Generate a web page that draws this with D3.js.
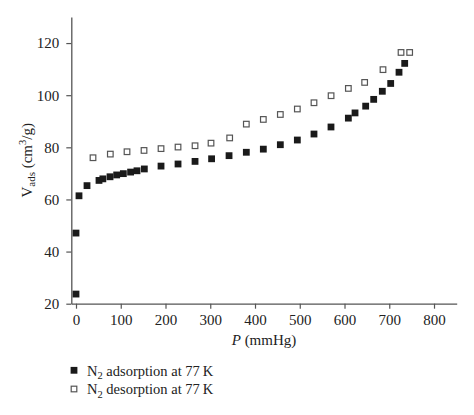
<!DOCTYPE html>
<html><head><meta charset="utf-8">
<script src="https://cdn.jsdelivr.net/npm/d3@7"></script>
<style>
html,body{margin:0;padding:0;background:#fff;}
svg{display:block;}
text{font-family:"Liberation Serif","DejaVu Serif",serif;fill:#222;}
</style></head>
<body>
<svg id="chart" width="474" height="415"></svg>
<script>
// Adsorption branch (P in mmHg, V in cm3/g)
const adsP = [0, 0, 6.7, 24.6, 51.4, 60, 76, 90.9, 105.8, 122, 136.3, 152.7, 190, 228, 266, 303, 342, 380.6, 418.6, 456.6, 494.6, 531.8, 569.8, 608.6, 623.5, 647.3, 665.2, 684.5, 703.2, 721.8, 734.5];
const adsV = [23.7, 47.1, 61.4, 65.3, 67.3, 67.9, 68.7, 69.4, 69.9, 70.5, 71.0, 71.7, 72.8, 73.6, 74.6, 75.6, 76.8, 78.1, 79.3, 81.0, 82.8, 85.1, 87.8, 91.2, 93.2, 95.8, 98.4, 101.5, 104.5, 108.8, 112.2];
// Desorption branch
const desP = [38, 76.7, 114, 152, 190, 228, 266, 301.7, 343.4, 380.6, 418.6, 456.6, 494.6, 531.8, 570, 608.6, 645, 686, 726.3, 745.6];
const desV = [76.0, 77.4, 78.3, 78.8, 79.5, 80.1, 80.6, 81.6, 83.6, 88.9, 90.7, 92.6, 94.7, 97.1, 99.8, 102.6, 104.9, 109.8, 116.4, 116.4];
const xTicks = [0, 100, 200, 300, 400, 500, 600, 700, 800];
const yTicks = [20, 40, 60, 80, 100, 120];
const legendLabels = ["adsorption at 77\u2009K", "desorption at 77\u2009K"];

const svg = d3.select("#chart");
const x = d3.scaleLinear().domain([-10.5, 850.7]).range([71.3, 456.7]);
const y = d3.scaleLinear().domain([20, 130]).range([303.7, 17]);
const axisColor = "#555";
const fs = 15;

// Y axis
const yAxis = svg.append("g").attr("transform", `translate(${x.range()[0]},0)`)
  .call(d3.axisLeft(y).tickValues(yTicks).tickSize(5).tickPadding(7).tickSizeOuter(0));
// X axis
const xAxis = svg.append("g").attr("transform", `translate(0,${y.range()[0]})`)
  .call(d3.axisBottom(x).tickValues(xTicks).tickSize(5).tickPadding(6).tickSizeOuter(0));
[xAxis, yAxis].forEach(g => {
  g.select(".domain").attr("stroke", axisColor).attr("stroke-width", 1.3);
  g.selectAll(".tick line").attr("stroke", axisColor).attr("stroke-width", 1.2);
  g.selectAll(".tick text").attr("font-size", fs).attr("font-family", "Liberation Serif").attr("fill", "#222");
});

// Axis titles
const xl = svg.append("text").attr("x", (x.range()[0] + x.range()[1]) / 2).attr("y", 345)
  .attr("text-anchor", "middle").attr("font-size", fs);
xl.append("tspan").attr("font-style", "italic").text("P");
xl.append("tspan").text(" (mmHg)");

const yl = svg.append("text").attr("transform", `translate(31.5,${(y.range()[0] + y.range()[1]) / 2}) rotate(-90)`)
  .attr("text-anchor", "middle").attr("font-size", fs);
yl.append("tspan").text("V");
yl.append("tspan").attr("font-size", 11).attr("dy", 3.5).text("ads");
yl.append("tspan").attr("dy", -3.5).text(" (cm");
yl.append("tspan").attr("font-size", 10.5).attr("dy", -5.5).text("3");
yl.append("tspan").attr("dy", 5.5).text("/g)");

// Markers
const s = 6.8;
const ads = adsP.map((p, i) => ({p, v: adsV[i]}));
const des = desP.map((p, i) => ({p, v: desV[i]}));
svg.append("g").selectAll("rect").data(des).join("rect")
  .attr("x", d => x(d.p) - s / 2 + 0.6).attr("y", d => y(d.v) - s / 2 + 0.6)
  .attr("width", s - 1.2).attr("height", s - 1.2)
  .attr("fill", "#fff").attr("stroke", "#555").attr("stroke-width", 1.2);
svg.append("g").selectAll("rect").data(ads).join("rect")
  .attr("x", d => x(d.p) - s / 2).attr("y", d => y(d.v) - s / 2)
  .attr("width", s).attr("height", s).attr("fill", "#1a1a1a");

// Legend
const leg = svg.append("g");
legendLabels.forEach((lab, i) => {
  const cy = 370.3 + i * 18.7;
  if (i === 0) {
    leg.append("rect").attr("x", 74 - 3.4).attr("y", cy - 3.4).attr("width", 6.8).attr("height", 6.8).attr("fill", "#1a1a1a");
  } else {
    leg.append("rect").attr("x", 74 - 2.8).attr("y", cy - 2.8).attr("width", 5.6).attr("height", 5.6)
      .attr("fill", "#fff").attr("stroke", "#555").attr("stroke-width", 1.2);
  }
  const t = leg.append("text").attr("x", 87).attr("y", cy + 5.4).attr("font-size", 14.5);
  t.append("tspan").text("N");
  t.append("tspan").attr("font-size", 10.5).attr("dy", 3.5).text("2");
  t.append("tspan").attr("dy", -3.5).text(" " + lab);
});
</script>
</body></html>
